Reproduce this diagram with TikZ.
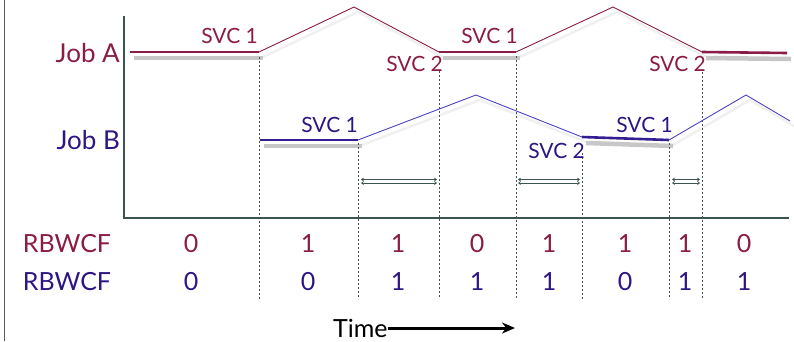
\documentclass[tikz,border=0pt]{standalone}
\usepackage{fontspec}
\setmainfont{Lato}
\usetikzlibrary{arrows.meta}
\definecolor{jobA}{HTML}{8A1C45}
\definecolor{jobB}{HTML}{2E1583}
\definecolor{lineB}{HTML}{4B44C4}
\definecolor{axiscol}{HTML}{3E5450}
\begin{document}
\begin{tikzpicture}[x=1pt,y=-1pt,
  joblabel/.style={font=\fontsize{26}{30}\selectfont, inner sep=0pt, anchor=base east},
  svclabel/.style={font=\fontsize{21}{24}\selectfont, inner sep=0pt, anchor=base east},
  rowlabel/.style={font=\fontsize{25}{30}\selectfont, inner sep=0pt, anchor=base},
  thickA/.style={jobA, line width=2.6pt},
  thinA/.style={jobA, line width=0.9pt},
  thickB/.style={jobB!80!lineB, line width=2.6pt},
  thinB/.style={lineB, line width=0.9pt},
  shadowthick/.style={black!22, line width=4.5pt},
  shadowthin/.style={black!6, line width=2.5pt},
  guide/.style={axiscol, line width=0.8pt, dash pattern=on 2pt off 2pt},
  axisline/.style={axiscol, line width=1.8pt},
  gap/.style={axiscol, line width=0.7pt, {Straight Barb[length=2pt,width=3pt]}-{Straight Barb[length=2pt,width=3pt]}}
]
\useasboundingbox (0,0) rectangle (794,341);
\draw[gray!70!black, line width=0.8pt] (4,0) -- (4,341);

% coordinates
\coordinate (a0) at (130,52); \coordinate (a1) at (259,52); \coordinate (a2) at (354,7);
\coordinate (a3) at (439,52); \coordinate (a4) at (516,52); \coordinate (a5) at (613,7);
\coordinate (a6) at (702,52); \coordinate (a7) at (787,53);
\coordinate (b0) at (260,140); \coordinate (b1) at (358,140); \coordinate (b2) at (476,95);
\coordinate (b3) at (582,137); \coordinate (b4) at (669,140); \coordinate (b5) at (746,95);
\coordinate (b6) at (790,121);

% shadows
\draw[shadowthin] ([shift={(4,5)}]a1) -- ([shift={(4,5)}]a2) -- ([shift={(4,5)}]a3);
\draw[shadowthin] ([shift={(4,5)}]a4) -- ([shift={(4,5)}]a5) -- ([shift={(4,5)}]a6);
\draw[shadowthin] ([shift={(4,5)}]b1) -- ([shift={(4,5)}]b2) -- ([shift={(4,5)}]b3);
\draw[shadowthin] ([shift={(4,5)}]b4) -- ([shift={(4,5)}]b5) -- ([shift={(4,5)}]b6);
\draw[shadowthick] ([shift={(4,6)}]a0) -- ([shift={(4,6)}]a1);
\draw[shadowthick] ([shift={(4,6)}]a3) -- ([shift={(4,6)}]a4);
\draw[shadowthick] ([shift={(4,6)}]a6) -- ([shift={(4,6)}]a7);
\draw[shadowthick] ([shift={(4,6)}]b0) -- ([shift={(4,6)}]b1);
\draw[shadowthick] ([shift={(4,6)}]b3) -- ([shift={(4,6)}]b4);

% guides
\coordinate (d1t) at (259,57);  \coordinate (d1b) at (259,299);
\coordinate (d2t) at (358,143); \coordinate (d2b) at (358,299);
\coordinate (d3t) at (439,71);  \coordinate (d3b) at (439,299);
\coordinate (d4t) at (516,56);  \coordinate (d4b) at (516,299);
\coordinate (d5t) at (582,153); \coordinate (d5b) at (582,299);
\coordinate (d6t) at (669,143); \coordinate (d6b) at (669,299);
\coordinate (d7t) at (702,72);  \coordinate (d7b) at (702,299);
\foreach \i in {1,...,7} { \draw[guide] (d\i t) -- (d\i b); }

% axes
\coordinate (ytop) at (124,16); \coordinate (orig) at (124,218); \coordinate (xend) at (789,218);
\draw[axisline] (ytop) -- (orig) -- (xend);

% waveforms
\draw[thickA] (a0) -- (a1);
\draw[thinA] (a1) -- (a2) -- (a3);
\draw[thickA] (a3) -- (a4);
\draw[thinA] (a4) -- (a5) -- (a6);
\draw[thickA] (a6) -- (a7);
\draw[thickB] (b0) -- (b1);
\draw[thinB] (b1) -- (b2) -- (b3);
\draw[thickB] (b3) -- (b4);
\draw[thinB] (b4) -- (b5) -- (b6);

% gap arrows
\coordinate (g1a) at (361,179.5); \coordinate (g1b) at (437,179.5);
\coordinate (g1c) at (361,183);   \coordinate (g1d) at (437,183);
\coordinate (g2a) at (518,179.5); \coordinate (g2b) at (580,179.5);
\coordinate (g2c) at (518,183);   \coordinate (g2d) at (580,183);
\coordinate (g3a) at (672,179.5); \coordinate (g3b) at (700,179.5);
\coordinate (g3c) at (672,183);   \coordinate (g3d) at (700,183);
\foreach \i in {1,2,3} {
  \draw[gap] (g\i a) -- (g\i b);
  \draw[gap] (g\i c) -- (g\i d);
}

% labels
\node[joblabel, text=jobA] (jA) at (120,62) {Job A};
\node[joblabel, text=jobB] (jB) at (120,149) {Job B};
\node[svclabel, text=jobA] (sA1) at (258,43) {SVC 1};
\node[svclabel, text=jobA] (sA2) at (443,71) {SVC 2};
\node[svclabel, text=jobA] (sA3) at (518,43) {SVC 1};
\node[svclabel, text=jobA] (sA4) at (706,71) {SVC 2};
\node[svclabel, text=jobB] (sB1) at (358,132) {SVC 1};
\node[svclabel, text=jobB] (sB2) at (585,158) {SVC 2};
\node[svclabel, text=jobB] (sB3) at (673,132) {SVC 1};

% RBWCF rows
\node[rowlabel, text=jobA] (rA) at (67,252) {RBWCF};
\node[rowlabel, text=jobB] (rB) at (67,290) {RBWCF};
\foreach \x/\v [count=\k] in {191/0,308/1,398/1,477/0,549/1,625/1,685/1,744/0} {
  \node[rowlabel, text=jobA] (vA\k) at (\x,252) {\v};
}
\foreach \x/\v [count=\k] in {191/0,308/0,398/1,477/1,549/1,625/0,685/1,744/1} {
  \node[rowlabel, text=jobB] (vB\k) at (\x,290) {\v};
}

% time arrow
\node[font=\fontsize{25}{30}\selectfont, inner sep=0pt, anchor=base west] (time) at (333,337) {Time};
\coordinate (tend) at (515,328);
\draw[black, line width=3pt, -{Stealth[length=13pt,width=11pt]}] (time.east |- tend) -- (tend);
\end{tikzpicture}
\end{document}
